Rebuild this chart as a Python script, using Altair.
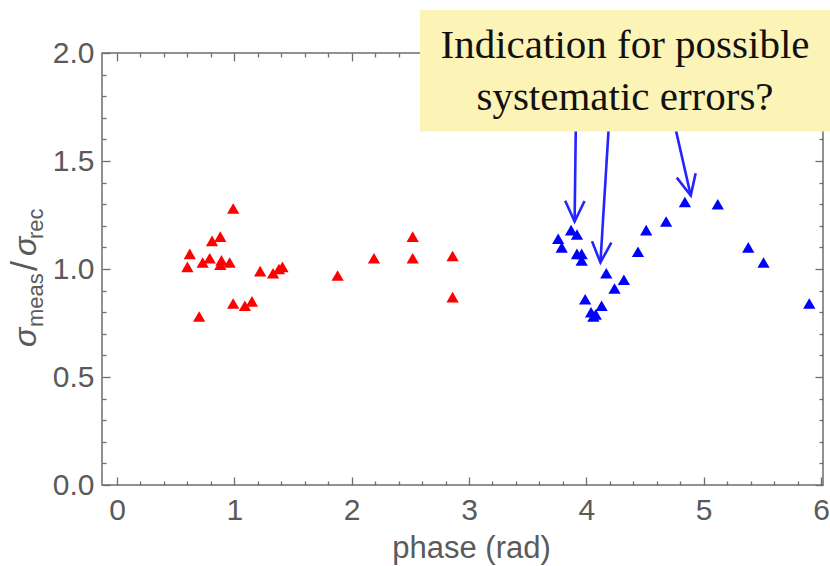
import altair as alt
import pandas as pd
import numpy as np

# ---------------- data ----------------
red_phase = [0.60, 0.62, 0.70, 0.73, 0.79, 0.81, 0.88, 0.89, 0.88, 0.96, 0.99, 0.99,
             1.09, 1.15, 1.22, 1.33, 1.38, 1.41, 1.88, 2.19, 2.52, 2.52, 2.86, 2.86]
red_ratio = [1.01, 1.07, 0.78, 1.03, 1.05, 1.13, 1.15, 1.04, 1.02, 1.03, 1.28, 0.84,
             0.83, 0.85, 0.99, 0.98, 1.00, 1.01, 0.97, 1.05, 1.15, 1.05, 1.06, 0.87]

blue_phase = [3.76, 3.79, 3.87, 3.92, 3.92, 3.96, 3.96, 3.99, 4.04, 4.06, 4.08, 4.13,
              4.17, 4.24, 4.32, 4.44, 4.51, 4.68, 4.84, 5.12, 5.38, 5.51, 5.90]
blue_ratio = [1.14, 1.10, 1.18, 1.16, 1.07, 1.07, 1.04, 0.86, 0.80, 0.78, 0.79, 0.83,
              0.98, 0.91, 0.95, 1.08, 1.18, 1.22, 1.31, 1.30, 1.10, 1.03, 0.84]

x_major = [0, 1, 2, 3, 4, 5, 6]
x_minor = [round(0.2 * i, 1) for i in range(1, 30) if i % 5]
y_major = [0.0, 0.5, 1.0, 1.5, 2.0]
y_minor = [round(0.1 * i, 1) for i in range(1, 20) if i % 5]

# annotation arrows (data coordinates: from the note box down to the points)
arrow_start_x = [3.91, 4.19, 4.76]
arrow_start_y = [1.65, 1.65, 1.65]
arrow_tip_x = [3.90, 4.12, 4.89]
arrow_tip_y = [1.22, 1.03, 1.34]

note_lines = ["Indication for possible", "systematic errors?"]
x_title = "phase (rad)"

# ---------------- layout / style ----------------
W, H = 721, 432
XMIN, XMAX = -0.128, 6.017
YMIN, YMAX = 0.0, 2.0
GRAY = "#6e6e6e"
LABEL = "#5a5a5a"
BLUE_ARROW = "#2424ff"
SANS = "Liberation Sans"

xs = alt.Scale(domain=[XMIN, XMAX], nice=False, zero=False)
ys = alt.Scale(domain=[YMIN, YMAX], nice=False, zero=False)

pts = pd.DataFrame({
    "phase": red_phase + blue_phase,
    "ratio": red_ratio + blue_ratio,
    "series": ["a"] * len(red_phase) + ["b"] * len(blue_phase),
})


def tick_axis(orient, values, size):
    return alt.Axis(orient=orient, values=values, offset=-size, tickSize=size,
                    tickColor=GRAY, tickWidth=1.3, domain=False, grid=False,
                    labels=False, title=None, zindex=0)


x_bottom = alt.Axis(orient="bottom", values=x_major, offset=-8, tickSize=8,
                    tickColor=GRAY, tickWidth=1.3, domain=False, grid=False,
                    labelFont=SANS, labelFontSize=30, labelColor=LABEL,
                    labelPadding=10, labelFlush=False, labelOverlap=False,
                    title=x_title, titleFont=SANS, titleFontSize=31,
                    titleFontWeight="normal", titleColor=LABEL,
                    titleX=369, titleY=80, titleAlign="center",
                    titleBaseline="alphabetic", zindex=0)
y_left = alt.Axis(orient="left", values=y_major, offset=-8, tickSize=8,
                  tickColor=GRAY, tickWidth=1.3, domain=False, grid=False,
                  format=".1f", labelFont=SANS, labelFontSize=30,
                  labelColor=LABEL, labelPadding=8, labelFlush=False,
                  labelOverlap=False, title=None, zindex=0)


def axis_layer(xaxis, yaxis, opacity):
    return alt.Chart(pts).mark_point(
        shape="triangle-up", filled=True, size=150, opacity=opacity
    ).encode(
        x=alt.X("phase:Q", scale=xs, axis=xaxis),
        y=alt.Y("ratio:Q", scale=ys, axis=yaxis),
        color=alt.Color("series:N",
                        scale=alt.Scale(domain=["a", "b"], range=["#ff0000", "#0000ff"]),
                        legend=None),
    )


one = pd.DataFrame({"k": [0]})

frame = alt.Chart(one).mark_rect(filled=False, stroke=GRAY, strokeWidth=1.5).encode(
    x=alt.value(0), x2=alt.value(W), y=alt.value(0), y2=alt.value(H))

points = axis_layer(x_bottom, y_left, 1)
minor1 = axis_layer(tick_axis("bottom", x_minor, 4), tick_axis("left", y_minor, 4), 0)
major2 = axis_layer(tick_axis("top", x_major, 8), tick_axis("right", y_major, 8), 0)
minor2 = axis_layer(tick_axis("top", x_minor, 4), tick_axis("right", y_minor, 4), 0)

# arrows
kx = W / (XMAX - XMIN)
ky = H / (YMAX - YMIN)
adf = pd.DataFrame({"x0": arrow_start_x, "y0": arrow_start_y,
                    "x1": arrow_tip_x, "y1": arrow_tip_y})
dxp = (adf["x1"] - adf["x0"]) * kx
dyp = -(adf["y1"] - adf["y0"]) * ky
adf["ang"] = (np.degrees(np.arctan2(-dxp, dyp)) + 360) % 360

arrow_lines = alt.Chart(adf).mark_rule(color=BLUE_ARROW, strokeWidth=2.6).encode(
    x=alt.X("x0:Q", scale=xs, axis=None), y=alt.Y("y0:Q", scale=ys, axis=None),
    x2="x1:Q", y2="y1:Q")
arrow_heads = alt.Chart(adf).mark_point(
    shape="M-0.47,-1L0,0L0.47,-1", filled=False, size=1700, opacity=1,
    strokeWidth=2.6, color=BLUE_ARROW, strokeJoin="miter"
).encode(
    x=alt.X("x1:Q", scale=xs, axis=None), y=alt.Y("y1:Q", scale=ys, axis=None),
    angle=alt.Angle("ang:Q", scale=None))

# note box
box = alt.Chart(one).mark_rect(fill="#fcf3b7").encode(
    x=alt.value(318), x2=alt.value(740), y=alt.value(-43), y2=alt.value(78.5))
note = alt.Chart(one).mark_text(
    font="Liberation Serif", fontSize=41, color="#111111", align="center",
    baseline="alphabetic", lineHeight=52
).encode(x=alt.value(523), y=alt.value(5), text=alt.value(note_lines))

# rotated y-axis title  sigma_meas / sigma_rec
def ytext(txt, x, y, size, style="normal", align="left"):
    return alt.Chart(one).mark_text(
        font=SANS, fontSize=size, fontStyle=style, color=LABEL, angle=270,
        align=align, baseline="alphabetic"
    ).encode(x=alt.value(x), y=alt.value(y), text=alt.value(txt))

ytitle = [
    ytext("σ", -66, 294, 32, "italic"),
    ytext("meas", -59, 274, 22),
    ytext("/", -65, 213, 36, align="center"),
    ytext("σ", -66, 203, 32, "italic"),
    ytext("rec", -59, 186, 22),
]

chart = alt.layer(
    frame, minor1, major2, minor2, points, arrow_lines, arrow_heads, box, note, *ytitle
).resolve_axis(
    x="independent", y="independent"
).properties(
    width=W, height=H,
    autosize=alt.AutoSizeParams(type="none"),
    padding={"left": 102, "top": 53, "right": 7, "bottom": 81},
    background="white",
).configure_view(strokeWidth=0)

chart.save("out.html", embed_options={"renderer": "svg", "actions": False})
